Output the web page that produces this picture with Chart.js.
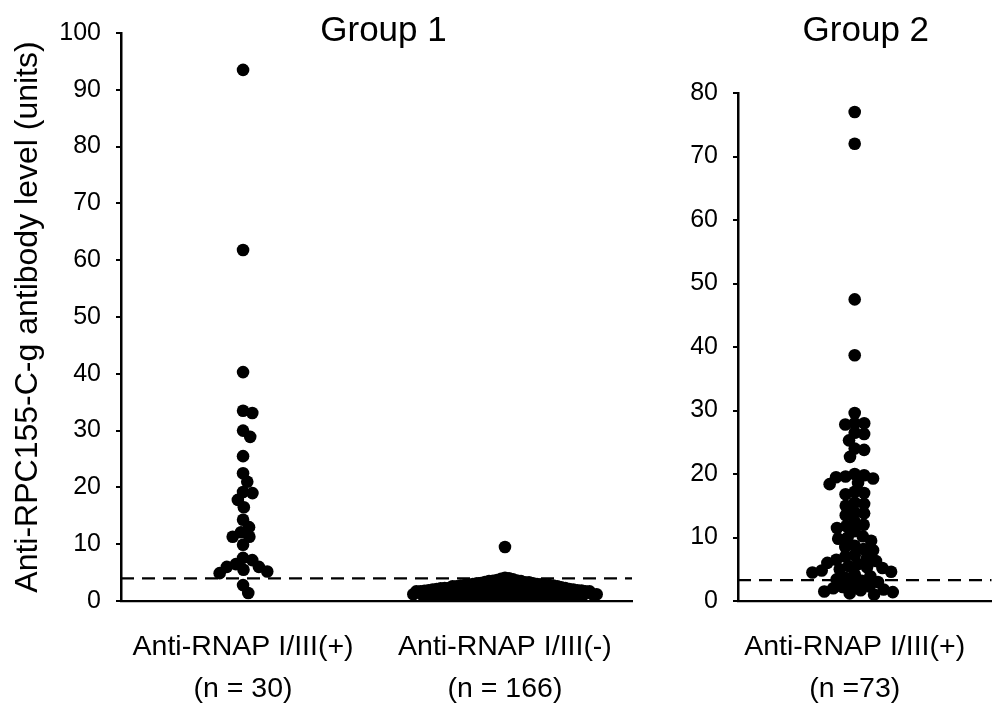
<!DOCTYPE html>
<html>
<head>
<meta charset="utf-8">
<script src="https://cdn.jsdelivr.net/npm/chart.js@4.4.1/dist/chart.umd.min.js"></script>
<style>
  html, body { margin: 0; padding: 0; background: #fff; }
  #wrap { position: relative; width: 998px; height: 703px; overflow: hidden; }
  #c1 { position: absolute; left: 0; top: 0; }
  #c2 { position: absolute; left: 660px; top: 0; }
</style>
</head>
<body>
<div id="wrap">
  <canvas id="c1" width="640" height="703"></canvas>
  <canvas id="c2" width="338" height="703"></canvas>
</div>
<script>
// ---------- DATA ----------
const group1Title = "Group 1";
const group2Title = "Group 2";
const yAxisTitle = "Anti-RPC155-C-g antibody level (units)";

const group1Categories = [
  ["Anti-RNAP I/III(+)", "(n = 30)"],
  ["Anti-RNAP I/III(-)", "(n = 166)"]
];
const group2Categories = [
  ["Anti-RNAP I/III(+)", "(n =73)"]
];

const group1Positive = [
  93.5, 61.8, 40.3, 33.5, 33.1, 30.0, 28.9, 25.5, 22.5, 21.0,
  19.2, 19.0, 17.8, 16.5, 14.3, 13.0, 12.1, 11.3, 11.3, 9.9,
  7.6, 7.2, 6.5, 6.0, 6.0, 5.5, 5.2, 4.9, 2.8, 1.4
];

const group1Negative = [
  0.2, 0.3, 0.3, 0.4, 0.4, 0.5, 0.5, 0.5, 0.6, 0.6,
  0.6, 0.7, 0.7, 0.7, 0.8, 0.8, 0.8, 0.8, 0.9, 0.9,
  0.9, 0.9, 1.0, 1.0, 1.0, 1.0, 1.1, 1.1, 1.1, 1.1,
  1.2, 1.2, 1.2, 1.2, 1.3, 1.3, 1.3, 1.3, 1.4, 1.4,
  1.4, 1.4, 1.5, 1.5, 1.5, 1.5, 1.6, 1.6, 1.6, 1.6,
  1.7, 1.7, 1.7, 1.7, 1.8, 1.8, 1.8, 1.8, 1.9, 1.9,
  1.9, 1.9, 2.0, 2.0, 2.0, 2.0, 2.1, 2.1, 2.1, 2.1,
  2.2, 2.2, 2.2, 2.3, 2.3, 2.3, 2.4, 2.4, 2.4, 2.5,
  2.5, 2.5, 2.6, 2.6, 2.6, 2.7, 2.7, 2.7, 2.8, 2.8,
  2.8, 2.9, 2.9, 3.0, 3.0, 3.0, 3.1, 3.1, 3.2, 3.2,
  3.3, 3.3, 3.4, 3.5, 3.5, 3.6, 3.7, 3.8, 3.9, 4.1,
  0.55, 0.75, 1.05, 0.95, 1.35, 1.25, 1.65, 2.05, 1.85, 2.35,
  0.45, 0.85, 1.15, 1.45, 1.55, 1.75, 1.95, 2.15, 2.45, 2.65,
  0.65, 1.05, 1.25, 1.35, 1.55, 1.85, 2.25, 2.55, 2.75, 3.05,
  0.35, 0.95, 1.15, 1.45, 1.65, 1.75, 2.05, 2.35, 2.85, 3.15,
  0.75, 1.25, 1.55, 1.95, 2.15, 2.45, 2.95, 3.35, 3.55, 4.0,
  1.35, 1.85, 2.25, 2.65, 9.5, 0.85
];

const group2Positive = [
  77, 72, 47.5, 38.7, 29.6, 28, 28, 27.8, 26.5, 26.3,
  25.3, 24, 23.8, 22.7, 20, 19.8, 19.6, 19.5, 19.3, 18.6,
  18.4, 17.2, 17, 16.8, 15.5, 15.3, 15, 14, 13.8, 13.5,
  12, 11.8, 11.5, 11, 10.2, 10, 9.8, 9.5, 8.7, 8.5,
  8.2, 8, 7.2, 7, 6.8, 6.5, 6.3, 5.8, 5.5, 5.3,
  5.2, 5, 4.8, 4.6, 4.5, 4.2, 3.9, 3.6, 3.4, 3.2,
  3, 2.6, 2.3, 2, 1.8, 1.7, 1.5, 1.4, 1.2, 1,
  2.2, 6, 12.5
];

const group1Cutoff = 4.0;
const group2Cutoff = 3.3;

const group1YTicks = [0, 10, 20, 30, 40, 50, 60, 70, 80, 90, 100];
const group2YTicks = [0, 10, 20, 30, 40, 50, 60, 70, 80];

// ---------- HELPERS ----------
const FONT = "'Liberation Sans', Arial, Helvetica, sans-serif";

function swarm(py, d) {
  const order = py.map((_, i) => i).sort((a, b) => py[a] - py[b]);
  const placed = [];
  const out = new Array(py.length).fill(0);
  for (const i of order) {
    const y = py[i];
    const near = placed.filter(p => Math.abs(p.y - y) < d);
    const cands = [0];
    near.forEach(p => {
      const dx = Math.sqrt(d * d - (p.y - y) * (p.y - y));
      cands.push(p.x + dx, p.x - dx);
    });
    cands.sort((a, b) => Math.abs(a) - Math.abs(b));
    let x = 0;
    for (const c of cands) {
      if (near.every(p => (p.x - c) ** 2 + (p.y - y) ** 2 >= d * d - 1e-6)) { x = c; break; }
    }
    placed.push({ x, y });
    out[i] = x;
  }
  return out;
}

function applySwarm(chart, dsIndex, center, values, d) {
  const xs = chart.scales.x, ys = chart.scales.y;
  const cx = xs.getPixelForValue(center);
  const py = values.map(v => ys.getPixelForValue(v));
  const off = swarm(py, d);
  chart.data.datasets[dsIndex].data = values.map((v, i) => ({ x: xs.getValueForPixel(cx + off[i]), y: v }));
}

const titlePlugin = {
  id: 'panelTitle',
  afterDraw(chart, args, opts) {
    const ctx = chart.ctx;
    ctx.save();
    ctx.fillStyle = '#000';
    ctx.font = opts.size + 'px ' + FONT;
    ctx.textAlign = 'center';
    ctx.textBaseline = 'middle';
    const ca = chart.chartArea;
    ctx.fillText(opts.text, (ca.left + ca.right) / 2 + opts.dx, opts.y);
    ctx.restore();
  }
};

function dotDataset(values, center) {
  return {
    type: 'scatter',
    data: values.map(v => ({ x: center, y: v })),
    pointRadius: 6.3,
    pointHoverRadius: 6.3,
    backgroundColor: '#000',
    borderWidth: 0,
    order: 1
  };
}

function cutoffDataset(value, xmin, xmax) {
  return {
    type: 'line',
    data: [{ x: xmin, y: value }, { x: xmax, y: value }],
    borderColor: '#000',
    borderWidth: 2.2,
    borderDash: [13, 8],
    pointRadius: 0,
    fill: false,
    order: 2
  };
}

function makeOptions(cfg) {
  return {
    responsive: false,
    animation: false,
    events: [],
    layout: { padding: cfg.padding },
    plugins: {
      legend: { display: false },
      tooltip: { enabled: false },
      panelTitle: cfg.title
    },
    scales: {
      x: {
        type: 'linear',
        min: cfg.xmin,
        max: cfg.xmax,
        grid: { display: false },
        border: { display: true, color: '#000', width: 2.2 },
        afterBuildTicks: s => { s.ticks = cfg.categoryPos.map(v => ({ value: v })); },
        afterFit: s => { s.height = cfg.xHeight; },
        ticks: {
          autoSkip: false,
          maxRotation: 0,
          minRotation: 0,
          padding: 17,
          color: '#000',
          font: { family: FONT, size: 28.5, lineHeight: 1.48 },
          callback: (val, i) => cfg.categories[i]
        }
      },
      y: {
        type: 'linear',
        min: 0,
        max: cfg.ymax,
        afterBuildTicks: s => { s.ticks = cfg.yTicks.map(v => ({ value: v })); },
        afterFit: s => { s.width = cfg.yWidth; },
        grid: {
          display: true,
          drawOnChartArea: false,
          drawTicks: true,
          tickLength: 5,
          color: '#000',
          lineWidth: 2
        },
        border: { display: true, color: '#000', width: 2.5 },
        ticks: {
          padding: 15,
          color: '#000',
          font: { family: FONT, size: 25 }
        },
        title: cfg.yTitle ? {
          display: true,
          text: cfg.yTitle,
          color: '#000',
          font: { family: FONT, size: 32 },
          padding: { top: 9, bottom: 0 }
        } : { display: false }
      }
    }
  };
}

// ---------- CHART 1 ----------
const g1xmin = 0.534, g1xmax = 2.485;
const chart1 = new Chart(document.getElementById('c1'), {
  data: {
    datasets: [
      dotDataset(group1Positive, 1),
      dotDataset(group1Negative, 2),
      cutoffDataset(group1Cutoff, g1xmin, g1xmax)
    ]
  },
  options: makeOptions({
    padding: { top: 33, right: 8, left: 0, bottom: 0 },
    title: { text: group1Title, size: 35, y: 31, dx: 7 },
    xmin: g1xmin, xmax: g1xmax,
    categoryPos: [1, 2],
    categories: group1Categories,
    xHeight: 102,
    ymax: 100,
    yTicks: group1YTicks,
    yWidth: 121,
    yTitle: yAxisTitle
  }),
  plugins: [titlePlugin]
});
applySwarm(chart1, 0, 1, group1Positive, 9.5);
applySwarm(chart1, 1, 2, group1Negative, 4.1);
chart1.update('none');

// ---------- CHART 2 ----------
const g2xmin = 0.54, g2xmax = 1.54;
const chart2 = new Chart(document.getElementById('c2'), {
  data: {
    datasets: [
      dotDataset(group2Positive, 1),
      cutoffDataset(group2Cutoff, g2xmin, g2xmax)
    ]
  },
  options: makeOptions({
    padding: { top: 93, right: 3, left: 0, bottom: 0 },
    title: { text: group2Title, size: 35, y: 31, dx: 1 },
    xmin: g2xmin, xmax: g2xmax,
    categoryPos: [1],
    categories: group2Categories,
    xHeight: 102,
    ymax: 80,
    yTicks: group2YTicks,
    yWidth: 78,
    yTitle: null
  }),
  plugins: [titlePlugin]
});
applySwarm(chart2, 0, 1, group2Positive, 9.5);
chart2.update('none');
</script>
</body>
</html>
